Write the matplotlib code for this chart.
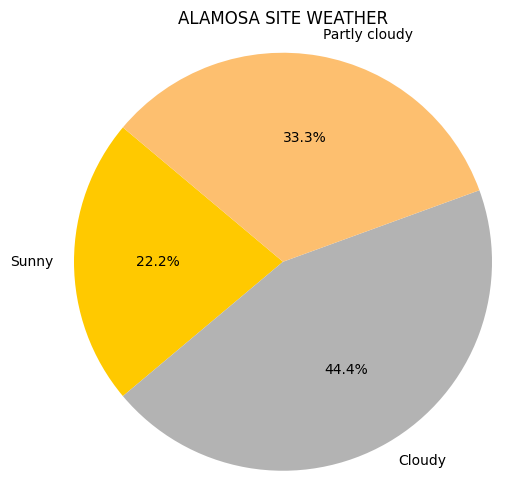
import matplotlib
matplotlib.use("Agg")
import matplotlib.pyplot as plt

labels = ["Sunny", "Cloudy", "Partly cloudy"]
counts = [2, 4, 3]
colors = ["#ffc900", "#b3b3b3", "#fdbf6f"]

W, H = 528, 504
fig = plt.figure(figsize=(W / 100, H / 100), dpi=100)
# axes box in pixels (left, top, right, bottom)
l, t, r, b = 46, 32.5, 520, 491.0
ax = fig.add_axes([l / W, 1 - b / H, (r - l) / W, (b - t) / H])
ax.pie(counts, labels=labels, colors=colors, autopct="%1.1f%%", startangle=140)
R = 209.0
ax.set_aspect("auto")
ax.set_xlim(-(r - l) / 2 / R, (r - l) / 2 / R)
ax.set_ylim(-(b - t) / 2 / R, (b - t) / 2 / R)
ax.set_title("ALAMOSA SITE WEATHER")
fig.savefig("out.png", dpi=100)
